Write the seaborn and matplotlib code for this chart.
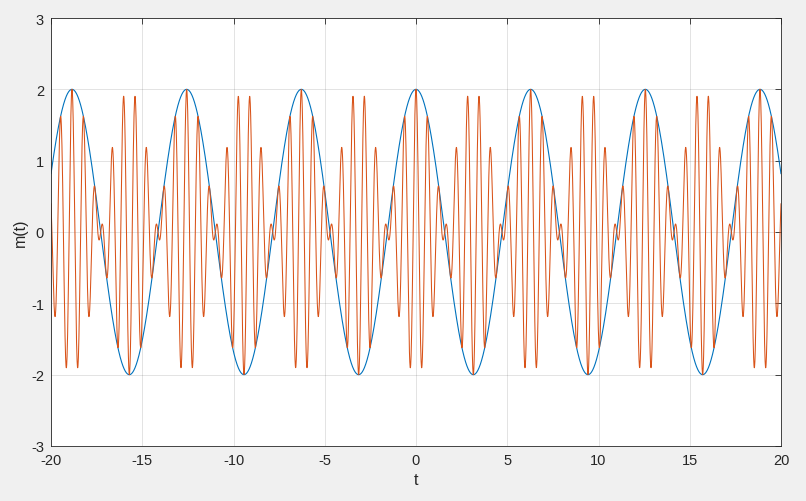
import numpy as np
import pandas as pd
import matplotlib
matplotlib.use("Agg")
import matplotlib.pyplot as plt
import seaborn as sns

# signal parameters
t_start, t_stop, t_step = -20, 20, 0.01
amplitude = 2          # peak of m(t)
msg_freq = 1           # rad/s, period 2*pi
carrier_freq = 10      # rad/s, ~0.63 s period

x_ticks = [-20, -15, -10, -5, 0, 5, 10, 15, 20]
y_ticks = [-3, -2, -1, 0, 1, 2, 3]

t = np.arange(t_start, t_stop + t_step / 2, t_step)
m = amplitude * np.cos(msg_freq * t)
s = m * np.cos(carrier_freq * t)
df = pd.DataFrame({"t": t, "m": m, "s": s})

sns.set_style("white")
plt.rcParams["font.family"] = ["Liberation Sans", "DejaVu Sans"]
plt.rcParams["axes.unicode_minus"] = False

fig = plt.figure(figsize=(8.06, 5.02), dpi=100, facecolor="#f0f0f0")
ax = fig.add_axes([51 / 806, 55 / 502, 730 / 806, 428 / 502])
ax.set_facecolor("white")

sns.lineplot(data=df, x="t", y="m", color="#0072BD", linewidth=0.8, ax=ax, estimator=None, sort=False)
sns.lineplot(data=df, x="t", y="s", color="#D95319", linewidth=0.75, ax=ax, estimator=None, sort=False)

ax.set_xlim(-20, 20)
ax.set_ylim(-3, 3)
ax.set_xticks(x_ticks)
ax.set_yticks(y_ticks)
ax.grid(True, color="#262626", alpha=0.15, linewidth=0.6)
ax.tick_params(direction="in", length=4, width=0.6, colors="#262626",
               labelsize=10.5, top=True, right=True, pad=5)
for sp in ax.spines.values():
    sp.set_color("#262626")
    sp.set_linewidth(0.6)
ax.set_xlabel("t", fontsize=11.5, color="#262626", labelpad=4)
ax.set_ylabel("m(t)", fontsize=11.5, color="#262626", labelpad=2)

fig.savefig("out.png", dpi=100, facecolor=fig.get_facecolor())
